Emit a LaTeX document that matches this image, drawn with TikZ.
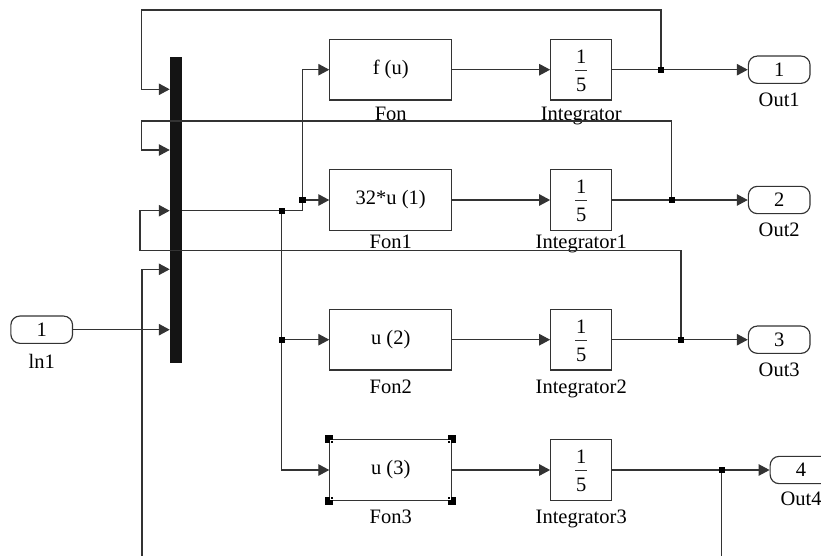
\documentclass[tikz,border=0pt]{standalone}
\usepackage{fontspec}
\setmainfont{Liberation Serif}
\usetikzlibrary{arrows.meta,calc}
\definecolor{lc}{HTML}{333333}
\begin{document}
\begin{tikzpicture}[x=1pt,y=-1pt,
  fs/.style={font=\fontsize{20.5}{22}\selectfont},
  blk/.style={draw=lc,line width=1.15pt,minimum width=121.7pt,minimum height=60.7pt,inner sep=0pt,fs},
  intb/.style={blk,minimum width=61pt},
  port/.style={draw=lc,line width=1.15pt,rounded corners=9pt,minimum width=61.7pt,minimum height=27.3pt,inner sep=0pt,fs},
  lab/.style={anchor=base,inner sep=0pt,fs},
  digit/.style={inner sep=0pt,fs},
  wire/.style={draw=lc,line width=1.15pt},
  arr/.style={wire,-{Triangle[length=11pt,width=11.5pt]}},
  frbar/.style={draw=lc,line width=0.9pt}
]
\useasboundingbox (0,0) rectangle (821,555);

% Mux bar
\node[fill=black!92,minimum width=11.7pt,minimum height=306pt,inner sep=0pt] (mux) at (175.8,210.3) {};

% Input port
\node[port] (in1) at (41.7,329.7) {1};
\node[lab] (in1l) at (41.7,368) {ln1};

% Function blocks
\node[blk] (fon0) at (390.7,69.7) {f (u)};
\node[blk] (fon1) at (390.7,200) {32*u (1)};
\node[blk] (fon2) at (390.7,339.7) {u (2)};
\node[blk] (fon3) at (390.7,470) {u (3)};
\node[lab] (fon0l) at (390.7,120.5) {Fon};
\node[lab] (fon1l) at (390.7,248.5) {Fon1};
\node[lab] (fon2l) at (390.7,393.5) {Fon2};
\node[lab] (fon3l) at (390.7,523.5) {Fon3};

% Integrators
\foreach \k/\yy in {0/69.7,1/200,2/339.7,3/470}{
  \node[intb] (int\k) at (581.2,\yy) {};
  \node[digit] (int\k n) at ($(int\k)+(0,-13)$) {1};
  \node[digit] (int\k d) at ($(int\k)+(0,15)$) {5};
  \draw[frbar] ($(int\k)+(-6,0.3)$) -- ($(int\k)+(6,0.3)$);
}
\node[lab] (int0l) at (581.2,120.5) {Integrator};
\node[lab] (int1l) at (581.2,248) {Integrator1};
\node[lab] (int2l) at (581.2,393.3) {Integrator2};
\node[lab] (int3l) at (581.2,523.3) {Integrator3};

% Output ports
\node[port] (out1) at (779.2,69.7) {1};
\node[port] (out2) at (779.2,200) {2};
\node[port] (out3) at (779.2,339.7) {3};
\node[port] (out4) at (801,470) {4};
\node[lab] (out1l) at (779.2,106.3) {Out1};
\node[lab] (out2l) at (779.2,236.7) {Out2};
\node[lab] (out3l) at (779.2,376.8) {Out3};
\node[lab] (out4l) at (801,505.5) {Out4};

% Junction coordinates
\coordinate (j0) at (281.7,210.7);
\coordinate (j1) at (302.3,200);
\coordinate (j2) at (281.7,339.7);
\coordinate (o1) at (661,69.7);
\coordinate (o2) at (671.7,200);
\coordinate (o3) at (681,339.7);
\coordinate (o4) at (721.7,470);

% Forward wires
\draw[arr] (in1.east) -- (mux.west |- in1);
\draw[wire] (mux.east |- j0) -- (j0) -- (j0 -| j1) -- (j1);
\draw[arr] (j1) -- (j1 |- fon0) -- (fon0.west);
\draw[arr] (j1) -- (fon1.west);
\draw[wire] (j0) -- (j2);
\draw[arr] (j2) -- (fon2.west);
\draw[arr] (j2) -- (j2 |- fon3) -- (fon3.west);
\foreach \k in {0,1,2,3}{ \draw[arr] (fon\k.east) -- (int\k.west); }
\draw[wire] (int0.east) -- (o1); \draw[arr] (o1) -- (out1.west);
\draw[wire] (int1.east) -- (o2); \draw[arr] (o2) -- (out2.west);
\draw[wire] (int2.east) -- (o3); \draw[arr] (o3) -- (out3.west);
\draw[wire] (int3.east) -- (o4); \draw[arr] (o4) -- (out4.west);

% Feedback wires
\draw[arr] (o1) -- (661,10) -- (141.7,10) -- (141.7,89.3) -- (mux.west |- 0,89.3);
\draw[arr] (o2) -- (671.7,121) -- (141.7,121) -- (141.7,150) -- (mux.west |- 0,150);
\draw[arr] (o3) -- (681,250.7) -- (140,250.7) -- (140,210.7) -- (mux.west |- 0,210.7);
\draw[arr] (o4) -- (721.7,570) -- (142,570) -- (142,269.3) -- (mux.west |- 0,269.3);

% Junction dots
\foreach \c in {j0,j1,j2,o1,o2,o3,o4}{ \fill[black] (\c) +(-3.2,-3.2) rectangle +(3.2,3.2); }

% Selection markers on Fon3
\foreach \a/\sx/\sy in {north west/1/1,north east/-1/1,south west/1/-1,south east/-1/-1}{
  \fill[black] (fon3.\a) +(-4.2,-4.2) rectangle +(4.2,4.2);
  \draw[white,line width=0.8pt] ($(fon3.\a)+(1.5*\sx,4.2*\sy)$) -- ($(fon3.\a)+(1.5*\sx,1.5*\sy)$) -- ($(fon3.\a)+(4.2*\sx,1.5*\sy)$);
}
\end{tikzpicture}
\end{document}
